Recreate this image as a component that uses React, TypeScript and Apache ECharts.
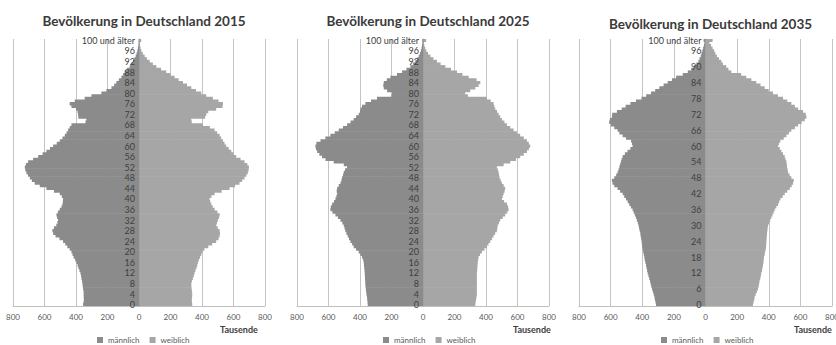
import React, { useEffect, useRef } from 'react';
import * as echarts from 'echarts';

const ages = [
  '0', '1', '2', '3', '4', '5', '6', '7', '8', '9',
  '10', '11', '12', '13', '14', '15', '16', '17', '18', '19',
  '20', '21', '22', '23', '24', '25', '26', '27', '28', '29',
  '30', '31', '32', '33', '34', '35', '36', '37', '38', '39',
  '40', '41', '42', '43', '44', '45', '46', '47', '48', '49',
  '50', '51', '52', '53', '54', '55', '56', '57', '58', '59',
  '60', '61', '62', '63', '64', '65', '66', '67', '68', '69',
  '70', '71', '72', '73', '74', '75', '76', '77', '78', '79',
  '80', '81', '82', '83', '84', '85', '86', '87', '88', '89',
  '90', '91', '92', '93', '94', '95', '96', '97', '98', '99',
  '100 und älter',
];

const titles = [
  'Bevölkerung in Deutschland 2015',
  'Bevölkerung in Deutschland 2025',
  'Bevölkerung in Deutschland 2035',
];

const legendNames = ['männlich', 'weiblich'];
const xTicks = [-800, 600, 400, 200, 0, 200, 400, 600, 800];
const unitLabel = 'Tausende';

// values in thousands, index = age
const male2015 = [
  355, 352, 350, 351, 351, 352, 355, 357, 359, 362,
  365, 368, 372, 378, 385, 390, 397, 405, 415, 422,
  429, 440, 455, 468, 482, 505, 530, 545, 550, 540,
  525, 518, 514, 520, 524, 515, 503, 492, 486, 483,
  482, 490, 503, 540, 588, 630, 662, 680, 693, 705,
  715, 722, 725, 718, 704, 672, 640, 612, 588, 565,
  545, 522, 503, 486, 471, 460, 450, 440, 429, 340,
  334, 385, 387, 390, 400, 429, 440, 408, 345, 302,
  239, 207, 175, 158, 144, 128, 112, 101, 91, 75,
  59, 48, 38, 29, 21, 15, 10, 7, 4, 3,
  3,
];
const female2015 = [
  338, 336, 335, 337, 338, 336, 334, 332, 332, 336,
  342, 348, 353, 358, 365, 370, 374, 380, 388, 395,
  402, 415, 440, 465, 490, 505, 512, 514, 512, 500,
  490, 495, 501, 508, 512, 498, 480, 468, 459, 452,
  448, 460, 480, 525, 575, 610, 638, 655, 670, 682,
  691, 696, 698, 688, 670, 645, 617, 600, 586, 570,
  554, 543, 533, 522, 512, 496, 480, 450, 406, 335,
  332, 420, 427, 440, 490, 530, 533, 505, 469, 427,
  395, 362, 332, 305, 279, 252, 226, 200, 173, 140,
  110, 88, 68, 50, 36, 24, 15, 10, 6, 4,
  14,
];
const male2025 = [
  351, 352, 354, 356, 359, 361, 363, 365, 366, 367,
  368, 369, 370, 371, 373, 375, 376, 380, 387, 397,
  408, 425, 440, 450, 461, 470, 478, 486, 493, 498,
  503, 512, 524, 540, 556, 575, 588, 585, 577, 565,
  556, 550, 545, 548, 545, 535, 524, 518, 514, 508,
  503, 495, 482, 503, 567, 619, 641, 658, 672, 680,
  683, 677, 651, 620, 588, 560, 535, 508, 482, 460,
  440, 425, 408, 400, 397, 387, 366, 330, 292, 200,
  197, 228, 249, 252, 249, 230, 207, 165, 133, 105,
  80, 63, 49, 37, 27, 19, 13, 9, 6, 4,
  5,
];
const female2025 = [
  332, 334, 337, 340, 342, 342, 342, 342, 342, 342,
  342, 342, 342, 344, 345, 346, 347, 350, 353, 362,
  374, 390, 406, 416, 427, 438, 448, 458, 469, 472,
  474, 482, 490, 506, 522, 535, 543, 540, 533, 515,
  501, 506, 512, 518, 522, 512, 501, 493, 486, 483,
  480, 475, 469, 512, 554, 590, 617, 640, 660, 672,
  681, 672, 660, 640, 617, 596, 575, 554, 533, 517,
  501, 490, 480, 470, 459, 453, 448, 430, 405, 285,
  268, 300, 332, 353, 364, 340, 290, 250, 216, 178,
  142, 112, 89, 66, 47, 32, 21, 14, 8, 5,
  20,
];
const male2035 = [
  313, 316, 320, 323, 328, 333, 338, 343, 347, 351,
  356, 361, 366, 369, 373, 376, 380, 384, 387, 390,
  394, 397, 400, 402, 404, 407, 410, 412, 416, 420,
  423, 428, 434, 440, 447, 454, 461, 472, 482, 492,
  503, 514, 524, 540, 556, 577, 588, 592, 577, 565,
  556, 550, 545, 540, 535, 530, 524, 510, 493, 475,
  461, 465, 471, 503, 524, 545, 556, 577, 598, 609,
  605, 592, 590, 560, 530, 505, 475, 440, 405, 375,
  345, 318, 292, 265, 239, 212, 186, 144, 112, 90,
  70, 58, 45, 38, 30, 25, 20, 15, 10, 7,
  12,
];
const female2035 = [
  300, 304, 308, 311, 318, 325, 332, 336, 339, 342,
  346, 350, 353, 357, 360, 364, 366, 368, 370, 374,
  377, 381, 383, 384, 385, 386, 388, 389, 391, 393,
  395, 402, 409, 416, 424, 431, 438, 448, 459, 466,
  474, 488, 501, 517, 533, 545, 554, 558, 543, 532,
  522, 519, 516, 514, 512, 506, 501, 490, 480, 470,
  459, 465, 474, 495, 512, 528, 543, 565, 586, 608,
  628, 638, 634, 617, 586, 565, 543, 517, 490, 458,
  427, 400, 374, 348, 321, 290, 258, 226, 163, 145,
  131, 110, 100, 85, 72, 62, 55, 45, 35, 25,
  45,
];

const FONT = 'Lato, "Open Sans", sans-serif';
const MALE_COLOR = '#8b8b8b';
const FEMALE_COLOR = '#a6a6a6';

const panels = [
  { title: titles[0], male: male2015, female: female2015, left: 13, width: 252, step: 4, titleTop: 9, legendLeft: 97, unitX: 220 },
  { title: titles[1], male: male2025, female: female2025, left: 297, width: 252, step: 4, titleTop: 9, legendLeft: 383, unitX: 513 },
  { title: titles[2], male: male2035, female: female2035, left: 579, width: 253, step: 6, titleTop: 12, legendLeft: 661, unitX: 794 },
];

export default function App() {
  const ref = useRef<HTMLDivElement>(null);
  useEffect(() => {
    if (!ref.current) return;
    const chart = echarts.init(ref.current, undefined, { renderer: 'svg' });
    const option: any = {
      animation: false,
      backgroundColor: '#ffffff',
      title: panels.map((p) => ({
        text: p.title,
        left: p.left + p.width / 2,
        top: p.titleTop,
        textAlign: 'center',
        textStyle: { fontSize: 13.5, fontWeight: 'bold', color: '#3a3a3a', fontFamily: FONT },
      })),
      legend: panels.map((p) => ({
        data: legendNames,
        left: p.legendLeft,
        top: 336,
        padding: 0,
        icon: 'rect',
        itemWidth: 6,
        itemHeight: 6,
        itemGap: 10,
        selectedMode: false,
        textStyle: { fontSize: 8, color: '#595959', fontFamily: FONT },
      })),
      grid: panels.map((p) => ({
        left: p.left,
        width: p.width,
        top: 39,
        height: 267,
        containLabel: false,
        outerBoundsMode: 'none',
      })),
      xAxis: panels.map((p, i) => ({
        type: 'value',
        gridIndex: i,
        min: xTicks[0],
        max: xTicks[xTicks.length - 1],
        interval: 200,
        axisLabel: {
          formatter: (v: number) => String(Math.abs(v)),
          fontSize: 8,
          color: '#595959',
          fontFamily: FONT,
          margin: 7,
        },
        axisLine: { show: true, onZero: false, lineStyle: { color: '#bfbfbf' } },
        axisTick: { show: false },
        splitLine: { show: true, lineStyle: { color: '#c4c4c4', width: 1 } },
      })),
      yAxis: panels.map((p, i) => ({
        type: 'category',
        gridIndex: i,
        data: ages,
        z: 5,
        position: 'left',
        offset: -p.width / 2,
        axisLine: { show: true, onZero: false, lineStyle: { color: '#a0a0a0' } },
        axisTick: { show: false },
        splitLine: { show: false },
        axisLabel: {
          interval: (idx: number) => idx % p.step === 0 || idx === ages.length - 1,
          fontSize: 9,
          color: '#404040',
          fontFamily: FONT,
          margin: 4,
        },
      })),
      series: panels.flatMap((p, i) => [
        {
          type: 'bar',
          name: legendNames[0],
          xAxisIndex: i,
          yAxisIndex: i,
          data: p.male.map((v) => -v),
          barGap: '-100%',
          barWidth: '125%',
          itemStyle: { color: MALE_COLOR },
        },
        {
          type: 'bar',
          name: legendNames[1],
          xAxisIndex: i,
          yAxisIndex: i,
          data: p.female,
          barGap: '-100%',
          barWidth: '125%',
          itemStyle: { color: FEMALE_COLOR },
        },
      ]),
      graphic: panels.map((p) => ({
        type: 'text',
        x: p.unitX,
        y: 329,
        style: {
          text: unitLabel,
          font: `bold 9px ${FONT}`,
          fill: '#404040',
          verticalAlign: 'middle',
          textVerticalAlign: 'middle',
        },
      })),
    };
    chart.setOption(option);
    return () => chart.dispose();
  }, []);
  return (
    <div
      ref={ref}
      style={{ position: 'fixed', left: 0, top: 0, width: 836, height: 345, background: '#fff' }}
    />
  );
}
